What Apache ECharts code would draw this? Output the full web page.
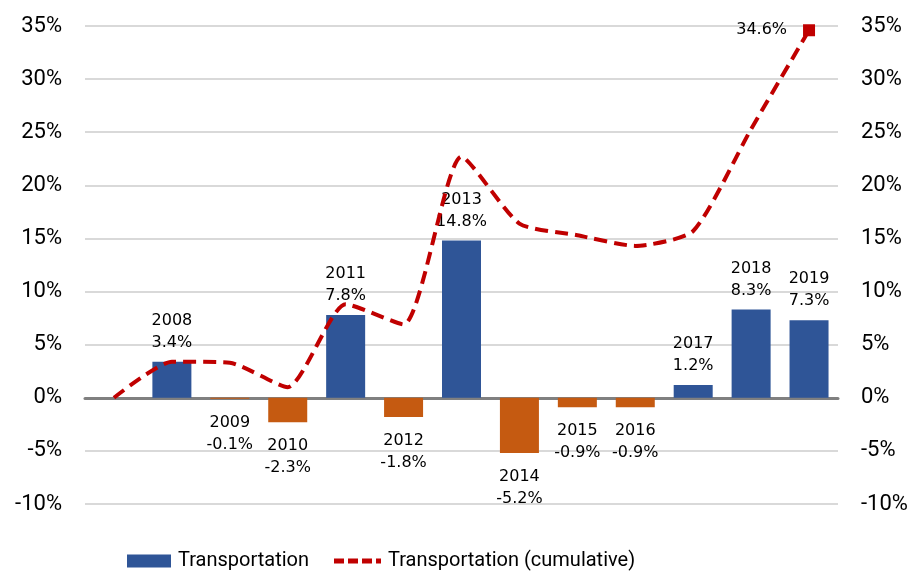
<!DOCTYPE html>
<html><head><meta charset="utf-8">
<script src="https://cdn.jsdelivr.net/npm/echarts@6/dist/echarts.min.js"></script>
<style>html,body{margin:0;padding:0;background:#fff}#c{width:916px;height:575px}</style>
</head><body><div id="c"></div>
<script>
const categories = ['', '2008', '2009', '2010', '2011', '2012', '2013', '2014', '2015', '2016', '2017', '2018', '2019'];
const annual = [null, 3.4, -0.1, -2.3, 7.8, -1.8, 14.8, -5.2, -0.9, -0.9, 1.2, 8.3, 7.3];
const cumulative = [0, 3.4, 3.3, 1.0, 8.8, 6.9, 22.7, 16.4, 15.3, 14.3, 15.7, 25.3, 34.6];
const yTicks = [-10, -5, 0, 5, 10, 15, 20, 25, 30, 35];

const tickFont = 'Roboto, sans-serif';
const labelFont = '"DejaVu Sans", sans-serif';

const chart = echarts.init(document.getElementById('c'));
const yAxisBase = {
  type: 'value', min: yTicks[0], max: yTicks[yTicks.length - 1], interval: 5,
  axisLine: {show: false}, axisTick: {show: false},
  axisLabel: {formatter: '{value}%', fontSize: 22, color: '#000', fontFamily: tickFont, margin: 23}
};
const legendText = {fontSize: 20, color: '#000', fontFamily: tickFont, padding: [0, 0, 0, 2]};
chart.setOption({
  animation: false,
  grid: {left: 85, right: 78, top: 26, bottom: 71},
  legend: [
    {
      left: 122, top: 546, itemWidth: 44, itemHeight: 13, itemGap: 10,
      textStyle: legendText,
      data: [{name: 'Transportation', icon: 'rect', itemStyle: {color: '#2F5597'}}]
    },
    {
      left: 329, top: 546, itemWidth: 47, itemHeight: 5, itemGap: 10,
      textStyle: legendText,
      data: [{name: 'Transportation (cumulative)',
        icon: 'path://M0,0h10v5h-10zM14,0h10v5h-10zM28,0h10v5h-10zM42,0h5v5h-5z',
        itemStyle: {color: '#C00000'}}]
    }
  ],
  xAxis: {
    type: 'category', data: categories,
    axisLine: {onZero: true, lineStyle: {color: '#808080', width: 3}},
    axisTick: {show: false}, axisLabel: {show: false}, splitLine: {show: false}
  },
  yAxis: [
    Object.assign({}, yAxisBase, {position: 'left', splitLine: {lineStyle: {color: '#D9D9D9', width: 2}}}),
    Object.assign({}, yAxisBase, {position: 'right', splitLine: {show: false}})
  ],
  series: [
    {
      name: 'Transportation', type: 'bar', barWidth: 39,
      data: annual.map((v, i) => v === null ? null : {
        value: v,
        itemStyle: {color: v >= 0 ? '#2F5597' : '#C55A11'},
        label: {position: v >= 0 ? 'top' : 'bottom', distance: v >= 0 ? 8 : 13}
      }),
      label: {
        show: true, fontSize: 16, color: '#000', fontFamily: labelFont, lineHeight: 22,
        formatter: p => categories[p.dataIndex] + '\n' + p.value.toFixed(1) + '%'
      },
      z: 2
    },
    {
      name: 'Transportation (cumulative)', type: 'line', data: cumulative.map((v, i) => i === cumulative.length - 1 ? {
        value: v, symbol: 'rect', symbolSize: 12,
        label: {show: true, position: 'left', distance: 16, fontSize: 16, color: '#000', fontFamily: labelFont, formatter: p => p.value.toFixed(1) + '%'}
      } : v),
      smooth: 0.2, showSymbol: true, symbol: 'none',
      lineStyle: {color: '#C00000', width: 4, type: [13, 7]},
      itemStyle: {color: '#C00000'},
      z: 3
    }
  ]
});
</script></body></html>
